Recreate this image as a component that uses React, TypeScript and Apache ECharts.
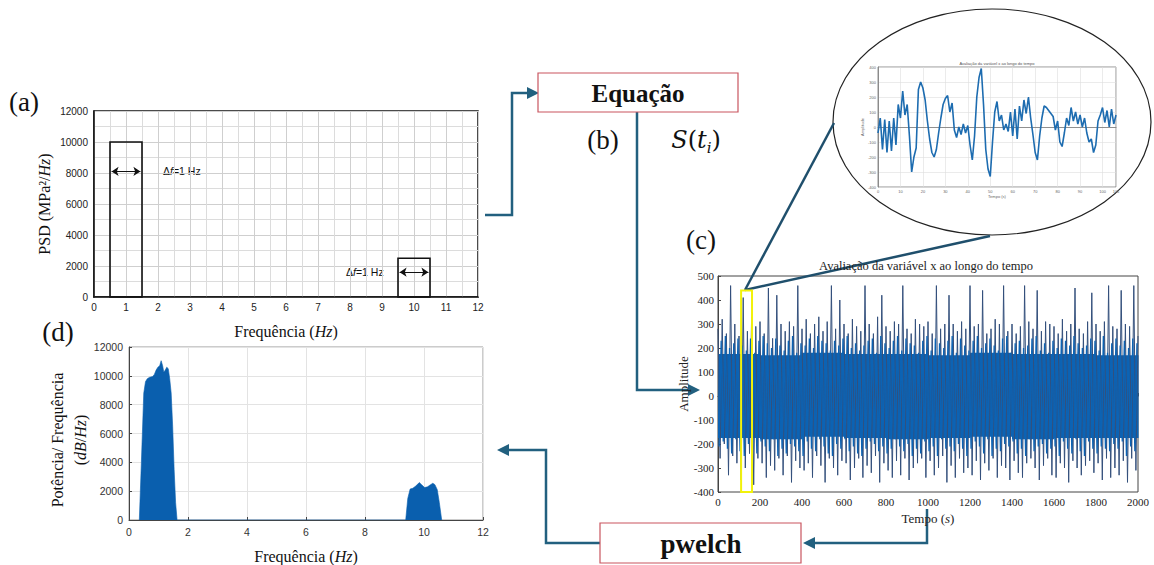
import React, { useEffect, useRef } from "react";
import * as echarts from "echarts";

// (a) idealised PSD blocks
const bandLow = [0.5, 9.5];
const bandHigh = [1.5, 10.5];
const bandPSD = [10000, 2500];
const deltaLevel = [8100, 1600];

// (d) pwelch estimate
const psdFreq = [0.35, 0.42, 0.5, 0.56, 0.62, 0.7, 0.8, 0.86, 0.92, 0.98, 1.04, 1.09, 1.14, 1.18, 1.23, 1.28, 1.33, 1.38, 1.43, 1.48, 1.53, 1.58, 1.63,
  9.38, 9.45, 9.53, 9.62, 9.72, 9.84, 9.92, 10.02, 10.12, 10.22, 10.3, 10.37, 10.45, 10.52, 10.6];
const psdValue = [0, 4000, 8800, 9600, 9800, 9900, 9950, 10100, 10400, 10600, 10700, 11050, 10700, 10250, 10400, 10600, 10500, 9800, 8800, 6500, 3500, 1200, 0,
  0, 1500, 2150, 2200, 2350, 2600, 2450, 2250, 2300, 2450, 2550, 2450, 2100, 1200, 0];

// (c) time signal: envelope samples every 10 s (t = 0, 10, ...)
const signalStep = 10;
const signalValues = [
  280, -260, 320, -200, 260, -330, 460, -250, 300, -280,
  250, -350, 410, -300, 270, -240, 330, -370, 290, -260,
  310, -280, 260, -340, 450, -290, 240, -310, 420, -260,
  300, -330, 270, -250, 310, -360, 290, -270, 460, -300,
  280, -310, 320, -280, 260, -340, 300, -250, 330, -290,
  270, -360, 310, -260, 460, -300, 280, -330, 400, -270,
  300, -280, 260, -350, 320, -300, 290, -260, 270, -340,
  460, -290, 300, -320, 260, -250, 330, -360, 420, -280,
  290, -310, 270, -340, 310, -270, 300, -330, 460, -260,
  280, -350, 260, -300, 320, -280, 300, -260, 290, -340,
  310, -270, 260, -330, 460, -300, 280, -250, 300, -360,
  420, -290, 300, -340, 270, -260, 310, -320, 280, -300,
  460, -330, 290, -270, 300, -350, 440, -280, 260, -310,
  280, -260, 320, -340, 300, -290, 460, -300, 270, -350,
  300, -270, 260, -320, 290, -340, 460, -280, 310, -260,
  280, -300, 440, -350, 270, -290, 310, -260, 300, -330,
  290, -340, 260, -280, 320, -300, 270, -360, 300, -270,
  450, -300, 280, -330, 260, -290, 310, -270, 430, -320,
  300, -280, 270, -350, 310, -260, 460, -340, 290, -300,
  280, -330, 440, -270, 300, -360, 290, -260, 460, -310,
  250,
];
// (c) in-between samples (t = 5, 15, ...)
const fineValues = [
  -210, 230, -190, 250, -220, 200, -240, 220, -180, 240,
  -230, 210, -250, 190, -200, 240, -220, 180, -240, 230,
  -190, 250, -210, 220, -230, 200, -180, 240, -250, 210,
  -220, 190, -240, 230, -200, 250, -210, 180, -230, 220,
  -250, 210, -190, 240, -220, 200, -230, 250, -180, 230,
  -210, 220, -240, 190, -250, 230, -200, 210, -220, 240,
  -180, 250, -230, 200, -210, 220, -240, 190, -250, 210,
  -220, 230, -190, 240, -200, 180, -230, 250, -210, 220,
  -240, 200, -220, 230, -180, 250, -210, 190, -230, 240,
  -200, 220, -250, 210, -220, 180, -240, 230, -190, 250,
  -230, 190, -210, 240, -250, 220, -180, 200, -220, 230,
  -210, 250, -230, 180, -200, 240, -220, 210, -250, 190,
  -220, 230, -190, 250, -210, 200, -240, 220, -180, 240,
  -250, 210, -220, 190, -230, 240, -200, 250, -210, 180,
  -190, 220, -240, 230, -220, 200, -250, 210, -180, 240,
  -230, 250, -210, 190, -200, 220, -240, 180, -220, 230,
  -210, 200, -250, 240, -190, 230, -220, 210, -240, 250,
  -180, 220, -230, 200, -250, 210, -190, 240, -220, 230,
  -240, 190, -210, 250, -220, 180, -230, 220, -200, 240,
  -220, 210, -190, 230, -250, 200, -210, 240, -230, 220,
];
// (c) solid core of the trace, per 200 s stretch
const coreSpan = 200;
const coreUpper = [175, 170, 180, 175, 175, 170, 180, 175, 175, 170];
const coreLower = [-175, -180, -170, -175, -180, -175, -170, -180, -175, -175];
const zoomWindow = [110, 162, -400, 440];

// zoomed detail inside the ellipse
const insetValues = [
  -40, 60, -150, 50, -170, 40, -160, 60, -120, 150,
  60, 240, 80, 150, -60, -300, -200, -140, 250, 300,
  260, 180, 40, -80, -170, -200, -150, -40, 60, 150,
  190, 210, 100, 160, -20, -70, 0, -50, 20, -40,
  10, -120, -220, -60, 200, 330, 390, 150, -150, -280,
  -330, -100, 100, 170, 40, 80, -20, 20, -30, 100,
  -60, 120, -80, 140, 40, 180, 90, 200, 60, -50,
  -170, -220, -60, 60, 140, 130, 110, 90, 70, -20,
  40, -100, -130, -40, 60, 10, 130, 40, 100, 20,
  80, 0, 60, -40, -100, -80, -170, -120, 40, 80,
  130, 30, 110, 0, 120, 20, 80,
];

const serif = "Liberation Serif";
const sans = "Liberation Sans";
const linkColor = "#22607f";
const plain = (v: number) => String(v);

export default function App() {
  const ref = useRef<HTMLDivElement>(null);
  useEffect(() => {
    const chart = echarts.init(ref.current!, null, { renderer: "svg" });

    const bandRows = bandLow.map((v, i) => [v, bandHigh[i], bandPSD[i]]);
    const deltaLines = bandLow.map((v, i) => ({
      coords: [[v + 0.05, deltaLevel[i]], [bandHigh[i] - 0.05, deltaLevel[i]]],
    }));
    const psdData = psdFreq.map((f, i) => [f, psdValue[i]]);
    const signalData = signalValues.map((v, i) => [i * signalStep, v]);
    const fineData = fineValues.map((v, i) => [i * signalStep + signalStep / 2, v]);
    const coreRows = coreUpper.map((u, i) => [i * coreSpan, (i + 1) * coreSpan, coreLower[i], u]);
    const insetData = insetValues.map((v, i) => [i, v]);

    const italic = { i: { fontStyle: "italic", fontFamily: serif, fontSize: 16, color: "#111" } };

    const arrow = (pts: number[][]) => ({
      type: "polygon",
      shape: { points: pts },
      style: { fill: linkColor },
    });

    const option: any = {
      animation: false,
      backgroundColor: "#fff",
      grid: [
        { left: 94, top: 111, width: 384, height: 186, show: true, borderColor: "#111", borderWidth: 1.5 },
        { left: 129, top: 347, width: 354, height: 176, show: true, borderColor: "#999", borderWidth: 1 },
        { left: 718, top: 276, width: 420, height: 216, show: true, borderColor: "#444", borderWidth: 1 },
        { left: 878, top: 67, width: 238, height: 120, show: true, borderColor: "#777", borderWidth: 0.8 },
      ],
      xAxis: [
        {
          gridIndex: 0, type: "value", min: 0, max: 12, interval: 1,
          axisLine: { lineStyle: { color: "#111", width: 1.5 } },
          axisTick: { show: false },
          axisLabel: { fontFamily: sans, fontSize: 10, color: "#222", margin: 5, formatter: plain },
          splitLine: { show: true, lineStyle: { color: "#cfcfcf" } },
          minorTick: { show: false, splitNumber: 2 },
          minorSplitLine: { show: true, lineStyle: { color: "#dcdcdc" } },
          name: "Frequência ({i|Hz})", nameLocation: "middle", nameGap: 26,
          nameTextStyle: { fontFamily: serif, fontSize: 16, color: "#111", rich: italic },
        },
        {
          gridIndex: 1, type: "value", min: 0, max: 12, interval: 2,
          axisLine: { lineStyle: { color: "#444", width: 1 } },
          axisTick: { inside: true, length: 3, lineStyle: { color: "#444" } },
          axisLabel: { fontFamily: sans, fontSize: 10.5, color: "#333", margin: 6, formatter: plain },
          splitLine: { show: true, lineStyle: { color: "#e3e3e3" } },
          name: "Frequência ({i|Hz})", nameLocation: "middle", nameGap: 28,
          nameTextStyle: { fontFamily: serif, fontSize: 16, color: "#111", rich: italic },
        },
        {
          gridIndex: 2, type: "value", min: 0, max: 2000, interval: 200,
          axisLine: { lineStyle: { color: "#444", width: 1 } },
          axisTick: { inside: true, length: 3, lineStyle: { color: "#444" } },
          axisLabel: { fontFamily: serif, fontSize: 11, color: "#222", margin: 4, formatter: plain },
          splitLine: { show: false },
          name: "Tempo ({i|s})", nameLocation: "middle", nameGap: 20,
          nameTextStyle: { fontFamily: serif, fontSize: 13, color: "#222", rich: { i: { fontStyle: "italic", fontFamily: serif, fontSize: 13, color: "#222" } } },
        },
        {
          gridIndex: 3, type: "value", min: 0, max: 106, interval: 10,
          axisLine: { lineStyle: { color: "#777", width: 0.8 } },
          axisTick: { show: false },
          axisLabel: { fontFamily: sans, fontSize: 4, color: "#666", margin: 2, formatter: plain },
          splitLine: { show: true, lineStyle: { color: "#ddd", width: 0.6 } },
          name: "Tempo (s)", nameLocation: "middle", nameGap: 7,
          nameTextStyle: { fontFamily: sans, fontSize: 4, color: "#666" },
        },
      ],
      yAxis: [
        {
          gridIndex: 0, type: "value", min: 0, max: 12000, interval: 2000,
          axisLine: { show: true, lineStyle: { color: "#111", width: 1.5 } },
          axisTick: { show: false },
          axisLabel: { fontFamily: sans, fontSize: 10, color: "#222", margin: 6, formatter: plain },
          splitLine: { show: true, lineStyle: { color: "#cfcfcf" } },
          minorTick: { show: false, splitNumber: 2 },
          minorSplitLine: { show: true, lineStyle: { color: "#dcdcdc" } },
          name: "PSD (MPa²/{i|Hz})", nameLocation: "middle", nameGap: 42,
          nameTextStyle: { fontFamily: serif, fontSize: 16, color: "#111", rich: italic },
        },
        {
          gridIndex: 1, type: "value", min: 0, max: 12000, interval: 2000,
          axisLine: { show: true, lineStyle: { color: "#444", width: 1 } },
          axisTick: { inside: true, length: 3, lineStyle: { color: "#444" } },
          axisLabel: { fontFamily: sans, fontSize: 10.5, color: "#333", margin: 6, formatter: plain },
          splitLine: { show: true, lineStyle: { color: "#e3e3e3" } },
        },
        {
          gridIndex: 2, type: "value", min: -400, max: 500, interval: 100,
          axisLine: { show: true, lineStyle: { color: "#444", width: 1 } },
          axisTick: { inside: true, length: 3, lineStyle: { color: "#444" } },
          axisLabel: { fontFamily: serif, fontSize: 11, color: "#222", margin: 4, formatter: plain },
          splitLine: { show: false },
          name: "Amplitude", nameLocation: "middle", nameGap: 26,
          nameTextStyle: { fontFamily: serif, fontSize: 13, color: "#222" },
        },
        {
          gridIndex: 3, type: "value", min: -400, max: 400, interval: 100,
          axisLine: { show: true, lineStyle: { color: "#777", width: 0.8 } },
          axisTick: { show: false },
          axisLabel: { fontFamily: sans, fontSize: 4, color: "#666", margin: 2, formatter: plain },
          splitLine: { show: true, lineStyle: { color: "#ddd", width: 0.6 } },
          name: "Amplitude", nameLocation: "middle", nameGap: 12,
          nameTextStyle: { fontFamily: sans, fontSize: 4, color: "#666" },
        },
      ],
      series: [
        {
          type: "custom", xAxisIndex: 0, yAxisIndex: 0, data: bandRows, z: 3,
          renderItem: (_p: any, api: any) => {
            const a = api.coord([api.value(0), 0]);
            const b = api.coord([api.value(1), api.value(2)]);
            return {
              type: "rect",
              shape: { x: a[0], y: b[1], width: b[0] - a[0], height: a[1] - b[1] },
              style: { fill: "none", stroke: "#111", lineWidth: 1.6 },
            };
          },
        },
        {
          type: "lines", coordinateSystem: "cartesian2d", xAxisIndex: 0, yAxisIndex: 0, z: 4,
          symbol: ["arrow", "arrow"], symbolSize: 7,
          lineStyle: { color: "#111", width: 1.2, opacity: 1 },
          data: deltaLines,
        },
        {
          type: "line", xAxisIndex: 1, yAxisIndex: 1, data: psdData, symbol: "none",
          lineStyle: { color: "#0a5fae", width: 0.6 },
          areaStyle: { color: "#0a5fae", opacity: 1 },
        },
        {
          type: "custom", xAxisIndex: 2, yAxisIndex: 2, data: coreRows, z: 1,
          renderItem: (_p: any, api: any) => {
            const a = api.coord([api.value(0), api.value(3)]);
            const b = api.coord([api.value(1), api.value(2)]);
            return {
              type: "rect",
              shape: { x: a[0], y: a[1], width: b[0] - a[0] + 0.5, height: b[1] - a[1] },
              style: { fill: "#0c63b4" },
            };
          },
        },
        {
          type: "line", xAxisIndex: 2, yAxisIndex: 2, data: signalData, symbol: "none", z: 2,
          lineStyle: { color: "#34507c", width: 1 },
        },
        {
          type: "line", xAxisIndex: 2, yAxisIndex: 2, data: fineData, symbol: "none", z: 3,
          lineStyle: { color: "#0c63b4", width: 1.3 },
        },
        {
          type: "custom", xAxisIndex: 2, yAxisIndex: 2, data: [zoomWindow], z: 5,
          renderItem: (_p: any, api: any) => {
            const a = api.coord([api.value(0), api.value(3)]);
            const b = api.coord([api.value(1), api.value(2)]);
            return {
              type: "rect",
              shape: { x: a[0], y: a[1], width: b[0] - a[0], height: b[1] - a[1] },
              style: { fill: "none", stroke: "#f2f20a", lineWidth: 2 },
            };
          },
        },
        {
          type: "line", xAxisIndex: 3, yAxisIndex: 3, data: insetData, symbol: "none",
          lineStyle: { color: "#1d6cb0", width: 1.6 },
        },
      ],
      graphic: [
        { type: "ellipse", z: -1, shape: { cx: 992, cy: 122, rx: 159, ry: 113 }, style: { fill: "none", stroke: "#222", lineWidth: 1.2 } },
        { type: "line", shape: { x1: 745, y1: 290, x2: 834, y2: 123 }, style: { stroke: "#1f4f6c", lineWidth: 2.5 } },
        { type: "line", shape: { x1: 745, y1: 290, x2: 990, y2: 236 }, style: { stroke: "#1f4f6c", lineWidth: 2.5 } },
        { type: "text", style: { text: "Avaliação da variável x ao longo do tempo", x: 997, y: 63, align: "center", verticalAlign: "middle", fontFamily: sans, fontSize: 4, fill: "#555" } },
        { type: "text", style: { text: "Avaliação da variável x ao longo do tempo", x: 926, y: 266, align: "center", verticalAlign: "middle", fontFamily: serif, fontSize: 12.5, fill: "#222" } },

        // connectors
        { type: "polyline", shape: { points: [[485, 215], [512, 215], [512, 93], [530, 93]] }, style: { stroke: linkColor, lineWidth: 2.5, fill: "none" } },
        arrow([[527, 87], [539, 93], [527, 99]]),
        { type: "polyline", shape: { points: [[637, 112], [637, 390], [690, 390]] }, style: { stroke: linkColor, lineWidth: 2.5, fill: "none" } },
        arrow([[688, 384], [700, 390], [688, 396]]),
        { type: "polyline", shape: { points: [[927, 509], [927, 543], [812, 543]] }, style: { stroke: linkColor, lineWidth: 2.5, fill: "none" } },
        arrow([[815, 537], [803, 543], [815, 549]]),
        { type: "polyline", shape: { points: [[600, 543], [546, 543], [546, 450], [508, 450]] }, style: { stroke: linkColor, lineWidth: 2.5, fill: "none" } },
        arrow([[509, 444], [497, 450], [509, 456]]),

        // boxes
        { type: "rect", shape: { x: 538, y: 73, width: 200, height: 39 }, style: { fill: "#fff", stroke: "#c9555f", lineWidth: 1.2 } },
        { type: "text", style: { text: "Equação", x: 638, y: 93, align: "center", verticalAlign: "middle", fontFamily: serif, fontWeight: "bold", fontSize: 25, fill: "#111" } },
        { type: "rect", shape: { x: 600, y: 523, width: 201, height: 40 }, style: { fill: "#fff", stroke: "#c9555f", lineWidth: 1.2 } },
        { type: "text", style: { text: "pwelch", x: 701, y: 544, align: "center", verticalAlign: "middle", fontFamily: serif, fontWeight: "bold", fontSize: 27, fill: "#111" } },

        // panel letters
        { type: "text", style: { text: "(a)", x: 24, y: 102, align: "center", verticalAlign: "middle", fontFamily: serif, fontSize: 27, fill: "#111" } },
        { type: "text", style: { text: "(b)", x: 603, y: 140, align: "center", verticalAlign: "middle", fontFamily: serif, fontSize: 27, fill: "#111" } },
        { type: "text", style: { text: "(c)", x: 701, y: 240, align: "center", verticalAlign: "middle", fontFamily: serif, fontSize: 27, fill: "#111" } },
        { type: "text", style: { text: "(d)", x: 58, y: 332, align: "center", verticalAlign: "middle", fontFamily: serif, fontSize: 27, fill: "#111" } },
        {
          type: "text",
          style: {
            text: "{it|S}({it|t}{sub|i})", x: 696, y: 140, align: "center", verticalAlign: "middle",
            fontFamily: "DejaVu Serif", fontSize: 24, fill: "#111",
            rich: {
              it: { fontFamily: "DejaVu Serif", fontStyle: "italic", fontSize: 24, fill: "#111", lineHeight: 30, verticalAlign: "middle" },
              sub: { fontFamily: "DejaVu Serif", fontStyle: "italic", fontSize: 15, fill: "#111", lineHeight: 30, verticalAlign: "bottom" },
            },
          },
        },

        // (a) annotations
        {
          type: "text",
          style: {
            text: "Δ{f|f}=1 Hz", x: 163, y: 171, align: "left", verticalAlign: "middle",
            fontFamily: sans, fontSize: 10.5, fill: "#111",
            rich: { f: { fontFamily: sans, fontStyle: "italic", fontSize: 10.5, fill: "#111" } },
          },
        },
        {
          type: "text",
          style: {
            text: "Δ{f|f}=1 Hz", x: 346, y: 272, align: "left", verticalAlign: "middle",
            fontFamily: sans, fontSize: 10.5, fill: "#111",
            rich: { f: { fontFamily: sans, fontStyle: "italic", fontSize: 10.5, fill: "#111" } },
          },
        },

        // (d) axis title
        {
          type: "text", x: 57, y: 440, rotation: Math.PI / 2,
          style: { text: "Potência/ Frequência", x: 0, y: 0, align: "center", verticalAlign: "middle", fontFamily: serif, fontSize: 16, fill: "#111" },
        },
        {
          type: "text", x: 80, y: 440, rotation: Math.PI / 2,
          style: {
            text: "({i|dB}/{i|Hz})", x: 0, y: 0, align: "center", verticalAlign: "middle",
            fontFamily: serif, fontSize: 16, fill: "#111",
            rich: { i: { fontFamily: serif, fontStyle: "italic", fontSize: 16, fill: "#111" } },
          },
        },
      ],
    };
    chart.setOption(option);
    return () => chart.dispose();
  }, []);
  return (
    <div
      ref={ref}
      style={{ position: "fixed", left: 0, top: 0, width: 1154, height: 565, background: "#fff" }}
    />
  );
}
